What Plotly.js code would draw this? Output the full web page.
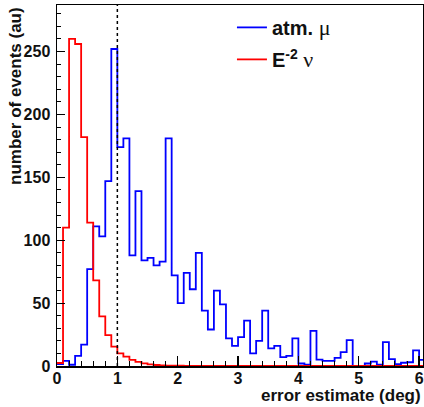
<!DOCTYPE html>
<html>
<head>
<meta charset="utf-8">
<script src="https://cdn.plot.ly/plotly-3.0.1.min.js"></script>
<style>html,body{margin:0;padding:0;background:#fff;}#chart{width:424px;height:407px;}</style>
</head>
<body>
<div id="chart"></div>
<script>
// Histogram binning (error estimate in degrees)
const binLow = 0;
const binWidth = 0.1;

// atm. mu (blue), counts per 0.1 deg bin starting at 0
const atmMu = [1.5, 4, 1, 8, 17, 77, 111, 103, 147, 252,
  174, 181, 88, 139, 84, 86, 80, 83, 181, 72,
  50, 74, 61, 90, 44, 29, 60, 49, 22, 16,
  23, 36, 10, 20, 44, 14, 16, 7, 8, 22,
  2, 1, 28, 5, 4, 4, 6.5, 11, 20.5, 0,
  0, 2, 3.4, 1, 19, 5.5, 1.5, 2.6, 3, 12.5,
  4.8];

// E^-2 nu (red), counts per 0.1 deg bin starting at 0
const e2Nu = [2.4, 110, 260, 256, 182, 114, 68, 39.5, 24.5, 15.4,
  10, 7.4, 4.8, 3.2, 2.1, 1.3, 0.8, 0.5, 0.35, 0.25,
  0.2, 0.15, 0.1, 0.1, 0.05, 0.05, 0, 0, 0, 0,
  0, 0, 0, 0, 0, 0, 0, 0, 0, 0,
  0, 0, 0, 0, 0, 0, 0, 0, 0, 0,
  0, 0, 0, 0, 0, 0, 0, 0, 0, 0,
  0];

const seriesNames = ["<b>atm.</b> <span style='font-family:Liberation Serif;font-size:22px'>μ</span>",
                     "<b>E<sup>-2</sup></b> <span style='font-family:Liberation Serif;font-size:22px'>ν</span>"];
const cutValue = 1; // dotted reference line

function stepXY(vals) {
  const x = [], y = [];
  for (let i = 0; i < vals.length; i++) { x.push(+(binLow + i * binWidth).toFixed(3)); y.push(vals[i]); }
  x.push(+(binLow + vals.length * binWidth).toFixed(3)); y.push(vals[vals.length - 1]);
  return {x, y};
}

const b = stepXY(atmMu), r = stepXY(e2Nu);
const traces = [
  {x: b.x, y: b.y, type: 'scatter', mode: 'lines', line: {shape: 'hv', color: '#0000ff', width: 1.8},
   name: seriesNames[0], legendgroup: 'a'},
  {x: r.x, y: r.y, type: 'scatter', mode: 'lines', line: {shape: 'hv', color: '#ff0000', width: 1.8},
   name: seriesNames[1], legendgroup: 'b'}
];

const tickFont = {family: 'Liberation Sans, Arial, sans-serif', size: 16, color: '#111', weight: 700};
const layout = {
  width: 424, height: 407,
  margin: {l: 57, r: 1, t: 5, b: 41},
  paper_bgcolor: '#fff', plot_bgcolor: '#fff',
  showlegend: true,
  legend: {x: 0.478, y: 0.992, xanchor: 'left', yanchor: 'top', bgcolor: 'rgba(0,0,0,0)',
           font: {family: 'Liberation Sans, Arial, sans-serif', size: 20, color: '#111'},
           traceorder: 'grouped', tracegroupgap: 3, itemwidth: 30},
  xaxis: {range: [0, 6.065], dtick: 1, tick0: 0, ticks: 'inside', ticklen: 10, tickwidth: 1.2, tickcolor: '#000',
          minor: {dtick: 0.2, ticks: 'inside', ticklen: 5, tickwidth: 1, tickcolor: '#000'},
          showline: true, mirror: true, linecolor: '#000', linewidth: 1.5, showgrid: false, zeroline: false,
          tickfont: tickFont, ticklabelstandoff: -3},
  yaxis: {range: [0, 287], dtick: 50, tick0: 0, ticks: 'inside', ticklen: 8, tickwidth: 1.2, tickcolor: '#000',
          minor: {dtick: 10, ticks: 'inside', ticklen: 4, tickwidth: 1, tickcolor: '#000'},
          showline: true, mirror: true, linecolor: '#000', linewidth: 1.5, showgrid: false, zeroline: false,
          tickfont: tickFont, ticklabelstandoff: 2},
  shapes: [{type: 'line', xref: 'x', yref: 'paper', x0: cutValue, x1: cutValue, y0: 0, y1: 1,
            line: {color: '#000', width: 1.5, dash: 'dot'}}],
  annotations: [
    {text: '<b>error estimate (deg)</b>', xref: 'paper', yref: 'paper', x: 1, y: -0.082,
     xanchor: 'right', yanchor: 'middle', showarrow: false,
     font: {family: 'Liberation Sans, Arial, sans-serif', size: 17, color: '#111'}},
    {text: '<b>number of events (au)</b>', xref: 'paper', yref: 'paper', x: -0.115, y: 1,
     xanchor: 'center', yanchor: 'top', textangle: -90, showarrow: false,
     font: {family: 'Liberation Sans, Arial, sans-serif', size: 17, color: '#111'}}
  ]
};

Plotly.newPlot('chart', traces, layout, {displayModeBar: false, staticPlot: true});
</script>
</body>
</html>
